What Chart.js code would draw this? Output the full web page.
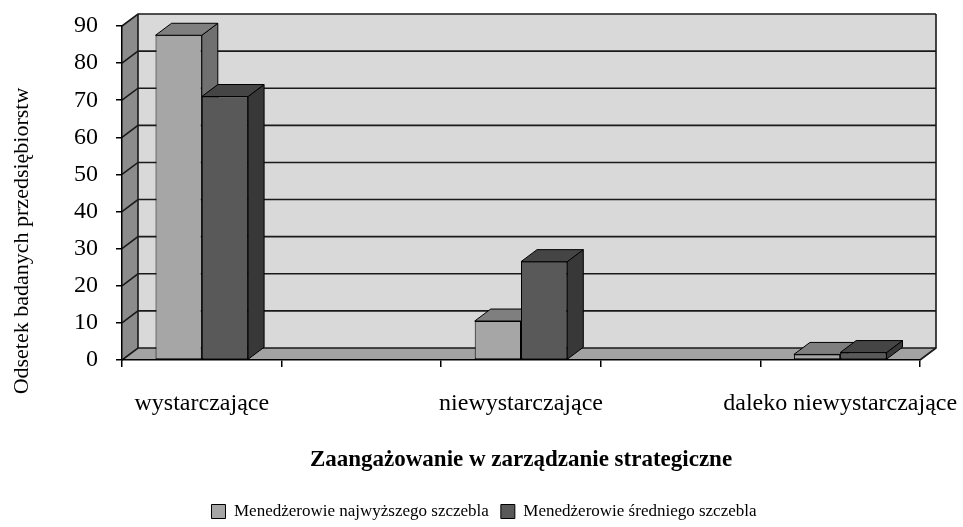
<!DOCTYPE html>
<html>
<head>
<meta charset="utf-8">
<script src="https://cdn.jsdelivr.net/npm/chart.js@4.4.1/dist/chart.umd.min.js"></script>
<style>
  html, body { margin: 0; padding: 0; background: #ffffff; overflow: hidden; }
  #wrap { width: 963px; height: 527px; }
</style>
</head>
<body>
<div id="wrap"><canvas id="chart" width="963" height="527"></canvas></div>
<script>
// ---- data ----
const categories = ['wystarczające', 'niewystarczające', 'daleko niewystarczające'];
const seriesNames = ['Menedżerowie najwyższego szczebla', 'Menedżerowie średniego szczebla'];
const topManagers = [87.5, 10.5, 1.5];
const middleManagers = [71, 26.5, 2];
const yAxisMax = 90;
const yAxisStep = 10;
const yAxisTitle = 'Odsetek badanych przedsiębiorstw';
const xAxisTitle = 'Zaangażowanie w zarządzanie strategiczne';

// The category axis has an unlabeled slot between neighbouring groups.
const withGaps = (arr, gap) => arr.flatMap((v, i) => (i ? [gap, v] : [v]));
const axisLabels = withGaps(categories, '');
const topData = withGaps(topManagers, null);
const middleData = withGaps(middleManagers, null);

// ---- styling ----
const FONT = "'Liberation Serif', 'Times New Roman', serif";
const DX = 16, DY = -12;           // depth offset of the box
const LEGEND_SHIFT_X = 24;         // legend sits slightly right of the canvas centre
const LEGEND_SHIFT_Y = 3;
const palette = [
  { front: '#a6a6a6', top: '#7f7f7f', side: '#707070' },
  { front: '#595959', top: '#454545', side: '#383838' }
];

function poly(ctx, pts, fill, stroke, lw) {
  ctx.beginPath();
  ctx.moveTo(pts[0][0], pts[0][1]);
  for (let i = 1; i < pts.length; i++) ctx.lineTo(pts[i][0], pts[i][1]);
  ctx.closePath();
  if (fill) { ctx.fillStyle = fill; ctx.fill(); }
  if (stroke) { ctx.strokeStyle = stroke; ctx.lineWidth = lw || 1; ctx.stroke(); }
}

// Walls, floor and gridlines of the 3-D box, drawn behind the axes.
const boxPlugin = {
  id: 'box3d',
  afterLayout(chart) {
    const lg = chart.legend;
    if (lg) {
      lg.left += LEGEND_SHIFT_X;
      lg.right += LEGEND_SHIFT_X;
      lg.top += LEGEND_SHIFT_Y;
      lg.bottom += LEGEND_SHIFT_Y;
    }
  },
  beforeDraw(chart) {
    const { ctx, chartArea: a, scales: { y } } = chart;
    ctx.save();
    ctx.lineJoin = 'miter';
    // back wall
    poly(ctx, [[a.left + DX, a.top + DY], [a.right + DX, a.top + DY],
               [a.right + DX, a.bottom + DY], [a.left + DX, a.bottom + DY]], '#d9d9d9');
    // side wall
    poly(ctx, [[a.left, a.top], [a.left + DX, a.top + DY],
               [a.left + DX, a.bottom + DY], [a.left, a.bottom]], '#8c8c8c');
    // floor
    poly(ctx, [[a.left, a.bottom], [a.left + DX, a.bottom + DY],
               [a.right + DX, a.bottom + DY], [a.right, a.bottom]], '#a3a3a3');
    // gridlines on side and back wall
    ctx.strokeStyle = '#1a1a1a';
    ctx.lineWidth = 1.6;
    y.ticks.forEach(t => {
      const py = y.getPixelForValue(t.value);
      ctx.beginPath();
      ctx.moveTo(a.left, py);
      ctx.lineTo(a.left + DX, py + DY);
      ctx.lineTo(a.right + DX, py + DY);
      ctx.stroke();
    });
    // back-wall vertical edges and floor edge
    ctx.beginPath();
    ctx.moveTo(a.left + DX, a.top + DY);
    ctx.lineTo(a.left + DX, a.bottom + DY);
    ctx.moveTo(a.right + DX, a.top + DY);
    ctx.lineTo(a.right + DX, a.bottom + DY);
    ctx.lineTo(a.right, a.bottom);
    ctx.stroke();
    ctx.restore();
  },
  // top and side faces of every column; the library draws the front faces over them
  beforeDatasetsDraw(chart) {
    const { ctx } = chart;
    ctx.save();
    ctx.lineJoin = 'miter';
    chart.data.datasets.forEach((ds, di) => {
      const meta = chart.getDatasetMeta(di);
      const col = palette[di];
      meta.data.forEach((bar, i) => {
        if (ds.data[i] == null) return;
        const { x, y, base, width } = bar.getProps(['x', 'y', 'base', 'width'], true);
        const l = x - width / 2, r = x + width / 2;
        poly(ctx, [[r, y], [r + DX, y + DY], [r + DX, base + DY], [r, base]], col.side, '#000', 1);
        poly(ctx, [[l, y], [l + DX, y + DY], [r + DX, y + DY], [r, y]], col.top, '#000', 1);
      });
    });
    ctx.restore();
  },
  afterDraw(chart) {
    const { ctx } = chart;
    ctx.save();
    ctx.translate(22, 241);
    ctx.rotate(-Math.PI / 2);
    ctx.font = `22px ${FONT}`;
    ctx.fillStyle = '#000';
    ctx.textAlign = 'center';
    ctx.textBaseline = 'middle';
    ctx.fillText(yAxisTitle, 0, 0);
    ctx.restore();
  }
};

new Chart(document.getElementById('chart'), {
  type: 'bar',
  data: {
    labels: axisLabels,
    datasets: [
      { label: seriesNames[0], data: topData, backgroundColor: palette[0].front,
        borderColor: '#000', borderWidth: 1, borderSkipped: false,
        categoryPercentage: 0.58, barPercentage: 1.0 },
      { label: seriesNames[1], data: middleData, backgroundColor: palette[1].front,
        borderColor: '#000', borderWidth: 1, borderSkipped: false,
        categoryPercentage: 0.58, barPercentage: 1.0 }
    ]
  },
  plugins: [boxPlugin],
  options: {
    responsive: false,
    animation: false,
    devicePixelRatio: 1,
    layout: { padding: { top: 26, right: 43, left: 0, bottom: 0 } },
    plugins: {
      tooltip: { enabled: false },
      legend: {
        position: 'bottom',
        labels: {
          font: { family: FONT, size: 17 },
          color: '#000',
          boxWidth: 14,
          boxHeight: 14,
          padding: 12
        }
      }
    },
    scales: {
      x: {
        grid: { offset: true, drawOnChartArea: false, drawTicks: true, tickLength: 7,
                color: '#000', lineWidth: 1.5 },
        border: { display: true, color: '#000', width: 1.5 },
        ticks: { autoSkip: false, maxRotation: 0, minRotation: 0,
                 font: { family: FONT, size: 24 }, color: '#000', padding: 22 },
        title: { display: true, text: xAxisTitle, color: '#000',
                 font: { family: FONT, size: 23, weight: 'bold' },
                 padding: { top: 0, bottom: 14 } },
        afterFit(scale) {
          scale.height = 128;
          scale.paddingLeft = 0;
          scale.paddingRight = 0;
        }
      },
      y: {
        min: 0,
        max: yAxisMax,
        ticks: { stepSize: yAxisStep, font: { family: FONT, size: 24 }, color: '#000', padding: 18 },
        grid: { drawOnChartArea: false, drawTicks: true, tickLength: 6, color: '#000', lineWidth: 1.5 },
        border: { display: true, color: '#000', width: 1.5 },
        afterFit(scale) {
          scale.width = 122;
          scale.paddingTop = 0;
          scale.paddingBottom = 0;
        }
      }
    }
  }
});
</script>
</body>
</html>
